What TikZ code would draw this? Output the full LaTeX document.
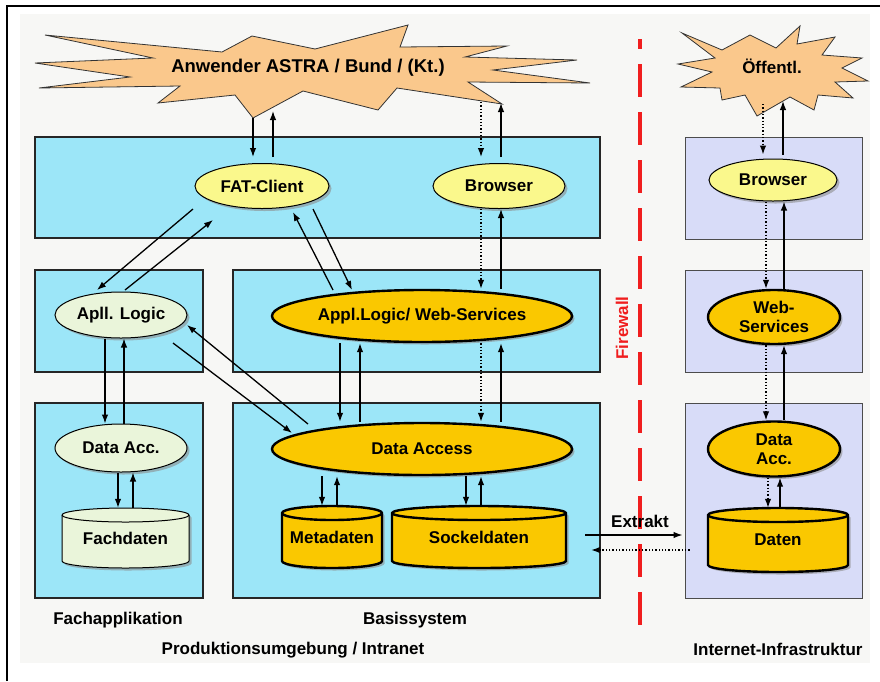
\documentclass[tikz,border=0pt]{standalone}
\usepackage{fontspec}
\setmainfont{Liberation Sans}
\usetikzlibrary{arrows.meta,shadows,calc,shapes.geometric}
\definecolor{cyanbox}{RGB}{156,230,248}
\definecolor{lavbox}{RGB}{216,220,248}
\definecolor{ylw}{RGB}{250,248,140}
\definecolor{pgreen}{RGB}{234,245,218}
\definecolor{gold}{RGB}{250,200,0}
\definecolor{peach}{RGB}{250,200,140}
\definecolor{fwred}{RGB}{240,30,30}
\definecolor{bgray}{RGB}{247,247,245}
\newcommand{\dbcyl}[8]{%
  \pgfmathsetmacro{\cylcx}{(#2+#3)/2}%
  \pgfmathsetmacro{\cylrx}{(#3-#2)/2}%
  \pgfmathsetmacro{\cylcy}{-(#4+#5)/2}%
  \pgfmathsetmacro{\cylh}{#5-#4}%
  \pgfmathsetmacro{\cylw}{#3-#2}%
  \fill[black!45, opacity=0.6, shift={(2.5,-2.5)}] (#2,-#4-7) -- (#2,-#5+7)
     arc[start angle=180,end angle=360,x radius=\cylrx,y radius=7] -- (#3,-#4-7)
     arc[start angle=0,end angle=180,x radius=\cylrx,y radius=7] -- cycle;
  \draw[fill=#6, line width=#8] (#2,-#4-7) -- (#2,-#5+7)
     arc[start angle=180,end angle=360,x radius=\cylrx,y radius=7] -- (#3,-#4-7)
     arc[start angle=0,end angle=180,x radius=\cylrx,y radius=7] -- cycle;
  \draw[line width=#8] (#2,-#4-7) arc[start angle=180,end angle=360,x radius=\cylrx,y radius=7];
  \node[inner sep=0, minimum width=\cylw, minimum height=\cylh] (#1) at (\cylcx,\cylcy) {#7};
}
\begin{document}
\begin{tikzpicture}[x=1pt,y=1pt,
 every node/.style={font=\bfseries\fontsize{17}{19.5}\selectfont, text=black},
 cbox/.style={draw=black!85, line width=1.6pt, fill=cyanbox, inner sep=0},
 lbox/.style={draw=black!70, line width=1pt, fill=lavbox, inner sep=0},
 ell/.style={ellipse, draw=black, inner sep=0, align=center,
   drop shadow={shadow xshift=2.5pt, shadow yshift=-2.5pt, fill=black!45, opacity=0.6}},
 thinell/.style={ell, line width=1pt},
 thickell/.style={ell, line width=2.4pt, fill=gold},
 arr/.style={-{Latex[length=9pt,width=6.5pt]}, line width=1.3pt},
 darr/.style={arr, dotted},
 starpoly/.style={fill=peach, draw=black!80, line width=0.8pt, line join=miter},
]
\useasboundingbox (0,0) rectangle (880,-681);
\fill[bgray] (20,-14) rectangle (870,-663);
\draw[line width=1.5pt] (7,-681) -- (7,-6) -- (880,-6);

% containers
\node[cbox, minimum width=565, minimum height=101] (topbox) at (317.5,-187.5) {};
\node[cbox, minimum width=168, minimum height=102] (midL) at (119,-321) {};
\node[cbox, minimum width=367, minimum height=102] (midM) at (416.5,-321) {};
\node[cbox, minimum width=168, minimum height=195] (botL) at (119,-500.5) {};
\node[cbox, minimum width=367, minimum height=195] (botM) at (416.5,-500.5) {};
\node[lbox, minimum width=177, minimum height=102] (rtop) at (773.5,-188) {};
\node[lbox, minimum width=177, minimum height=102] (rmid) at (773.5,-321) {};
\node[lbox, minimum width=177, minimum height=195] (rbot) at (773.5,-500.5) {};

% firewall
\draw[fwred, line width=4pt, dash pattern=on 33pt off 15pt, dash phase=23pt] (640,-39) -- (640,-628);
\node[rotate=90, text=fwred] (fw) at (622,-328) {Firewall};

% stars
\draw[starpoly] (45,-35) -- (222,-52) -- (252,-36) -- (315,-49) -- (408,-25) -- (400,-47)
  -- (507,-46) -- (465,-57) -- (577,-60) -- (493,-70) -- (590,-83) -- (468,-82)
  -- (502,-104) -- (397,-88) -- (378,-110) -- (303,-91) -- (253,-118) -- (235,-95)
  -- (158,-103) -- (180,-86) -- (39,-88) -- (130,-77) -- (35,-63) -- (153,-58) -- cycle;
\node[font=\bfseries\fontsize{18.5}{21}\selectfont] (star1) at (308,-68) {Anwender ASTRA / Bund / (Kt.)};
\draw[starpoly] (682,-33) -- (722,-50) -- (750,-35) -- (776,-48) -- (800,-26) -- (797,-44)
  -- (835,-37) -- (822,-55) -- (862,-58) -- (842,-68) -- (868,-81) -- (835,-82)
  -- (853,-98) -- (818,-95) -- (814,-110) -- (790,-97) -- (757,-116) -- (745,-95)
  -- (722,-100) -- (720,-88) -- (681,-87) -- (712,-72) -- (678,-64) -- (715,-58) -- cycle;
\node (star2) at (772,-66) {Öffentl.};

% ellipses
\node[thinell, fill=ylw, minimum width=134, minimum height=45] (fat) at (262,-186) {FAT-Client};
\node[thinell, fill=ylw, minimum width=132, minimum height=45] (brL) at (499,-186) {Browser};
\node[thinell, fill=ylw, minimum width=128, minimum height=42] (brR) at (773,-180) {Browser};
\node[thinell, fill=pgreen, minimum width=132, minimum height=46] (apl) at (121,-315) {Apll. Logic};
\node[thickell, minimum width=300, minimum height=52] (aws) at (422,-316) {Appl.Logic/ Web-Services};
\node[thickell, minimum width=132, minimum height=54] (wsR) at (774,-317) {Web-\\Services};
\node[thinell, fill=pgreen, minimum width=132, minimum height=48] (dal) at (121,-448) {Data Acc.};
\node[thickell, minimum width=300, minimum height=52] (da) at (422,-449) {Data Access};
\node[thickell, minimum width=132, minimum height=55] (daR) at (774,-449) {Data\\Acc.};

% databases
\dbcyl{fachd}{62}{189}{508}{568}{pgreen}{Fachdaten}{1pt}
\dbcyl{meta}{282}{382}{506}{568}{gold}{Metadaten}{2.4pt}
\dbcyl{sockel}{392}{566}{506}{568}{gold}{Sockeldaten}{2.4pt}
\dbcyl{daten}{708}{848}{508}{572}{gold}{Daten}{2.4pt}

% helper coordinates
\coordinate (s1a) at (253,-118); \coordinate (s1b) at (273,-111);
\coordinate (s1c) at (481,-102); \coordinate (s1d) at (501,-103);
\coordinate (s2a) at (763,-104); \coordinate (s2b) at (783,-101);
\foreach \k in {105,118,124,133,322,337,340,360,466,481,501,766,768,780,784}
  {\coordinate (k\k) at (\k,0);}

% star connectors
\draw[arr, shorten >=6pt] (s1a) -- (s1a |- fat.north);
\draw[arr, shorten <=6pt] (s1b |- fat.north) -- (s1b);
\draw[darr, shorten >=6pt] (s1c) -- (s1c |- brL.north);
\draw[arr, shorten <=6pt] (s1d |- brL.north) -- (s1d);
\draw[darr, shorten >=4pt] (s2a) -- (s2a |- brR.north);
\draw[arr, shorten <=4pt] (s2b |- brR.north) -- (s2b);

% browser / web services / data access
\draw[darr] (brL.south -| k481) -- (aws.north -| k481);
\draw[arr] (aws.north -| k501) -- (brL.south -| k501);
\draw[darr] (aws.south -| k481) -- (da.north -| k481);
\draw[arr] (da.north -| k501) -- (aws.south -| k501);
\draw[arr] (aws.south -| k340) -- (da.north -| k340);
\draw[arr] (da.north -| k360) -- (aws.south -| k360);
\draw[darr] (brR.south -| k766) -- (wsR.north -| k766);
\draw[arr] (wsR.north -| k784) -- (brR.south -| k784);
\draw[darr] (wsR.south -| k766) -- (daR.north -| k766);
\draw[arr] (daR.north -| k784) -- (wsR.south -| k784);
\draw[darr] (daR.south -| k768) -- (daten.north -| k768);
\draw[arr] (daten.north -| k780) -- (daR.south -| k780);
\draw[arr] (apl.south -| k105) -- (dal.north -| k105);
\draw[arr] (dal.north -| k124) -- (apl.south -| k124);
\draw[arr] (dal.south -| k118) -- (fachd.north -| k118);
\draw[arr] (fachd.north -| k133) -- (dal.south -| k133);
\draw[arr] (da.south -| k322) -- (meta.north -| k322);
\draw[arr] (meta.north -| k337) -- (da.south -| k337);
\draw[arr] (da.south -| k466) -- (sockel.north -| k466);
\draw[arr] (sockel.north -| k481) -- (da.south -| k481);

% diagonals
\draw[arr] ($(fat)+(-69,-23)$) -- ($(apl)+(-24,25)$);
\draw[arr] ($(apl)+(4,25)$) -- ($(fat)+(-49,-34)$);
\draw[arr] ($(aws)+(-89,26)$) -- ($(fat)+(31,-26)$);
\draw[arr] ($(fat)+(51,-23)$) -- ($(aws)+(-70,26)$);
\draw[arr] ($(apl)+(52,-28)$) -- ($(da)+(-130,16)$);
\draw[arr] ($(da)+(-114,25)$) -- ($(apl)+(66,-10)$);

% Extrakt
\draw[arr] ($(sockel.east)+(19,2)$) -- ($(rbot.west |- sockel.east)+(-2,2)$);
\draw[darr] ($(rbot.west |- sockel.east)+(5,-13)$) -- ($(sockel.east)+(25,-13)$);
\node (extr) at (640,-521) {Extrakt};

% labels
\node (lfach) at (118,-620) {Fachapplikation};
\node (lbasis) at (415,-620) {Basissystem};
\node (lprod) at (293,-650) {Produktionsumgebung / Intranet};
\node (linet) at (778,-649) {Internet-Infrastruktur};
\end{tikzpicture}
\end{document}
